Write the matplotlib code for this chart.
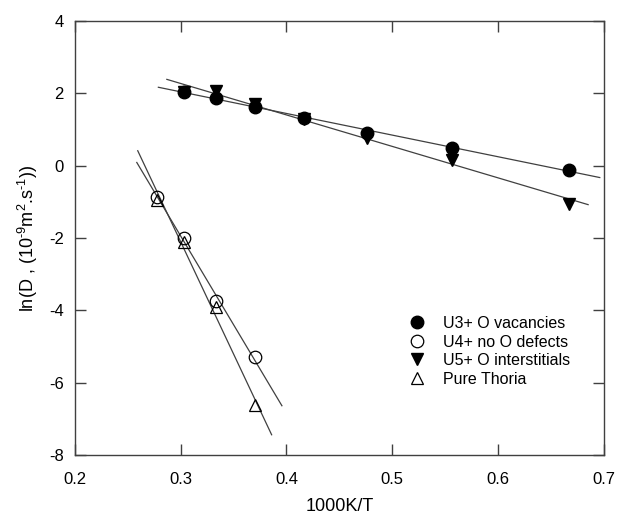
import numpy as np
import matplotlib.pyplot as plt

plt.rcParams['font.family'] = ['Liberation Sans', 'DejaVu Sans']
plt.rcParams['axes.unicode_minus'] = False
plt.rcParams['mathtext.fontset'] = 'custom'
plt.rcParams['mathtext.rm'] = 'Liberation Sans'
plt.rcParams['mathtext.it'] = 'Liberation Sans'
plt.rcParams['mathtext.default'] = 'rm'

# Datos (1000K/T, ln D)
x_u3 = [0.303, 0.333, 0.370, 0.417, 0.476, 0.556, 0.667]
y_u3 = [2.04, 1.88, 1.63, 1.33, 0.91, 0.50, -0.11]

x_u5 = [0.303, 0.333, 0.370, 0.417, 0.476, 0.556, 0.667]
y_u5 = [2.05, 2.07, 1.71, 1.30, 0.77, 0.17, -1.05]

x_u4 = [0.278, 0.303, 0.333, 0.370]
y_u4 = [-0.86, -2.00, -3.73, -5.30]

x_th = [0.278, 0.303, 0.333, 0.370]
y_th = [-0.95, -2.12, -3.92, -6.63]

# Rango de las rectas de ajuste
fit_range_u3 = (0.279, 0.696)
fit_range_u5 = (0.287, 0.685)
fit_range_u4 = (0.2586, 0.3957)
fit_range_th = (0.2595, 0.386)

fig = plt.figure(figsize=(6.23, 5.19), dpi=100)
ax = fig.add_axes([0.120, 0.1233, 0.8495, 0.8362])

line_color = '#404040'


def draw_fit(xs, ys, xr):
    m, b = np.polyfit(xs, ys, 1)
    xx = np.array(xr)
    ax.plot(xx, m * xx + b, color=line_color, lw=0.9, zorder=1)


draw_fit(x_u3, y_u3, fit_range_u3)
draw_fit(x_u5, y_u5, fit_range_u5)
draw_fit(x_u4, y_u4, fit_range_u4)
draw_fit(x_th, y_th, fit_range_th)

ax.plot(x_u3, y_u3, 'o', color='black', ms=9, ls='none', zorder=3, label='U3+ O vacancies')
ax.plot(x_u4, y_u4, 'o', mfc='none', mec='black', mew=0.9, ms=9, ls='none', zorder=3, label='U4+ no O defects')
ax.plot(x_u5, y_u5, 'v', color='black', ms=9, ls='none', zorder=2, label='U5+ O interstitials')
ax.plot(x_th, y_th, '^', mfc='none', mec='black', mew=0.9, ms=8, ls='none', zorder=3, label='Pure Thoria')

ax.set_xlim(0.2, 0.7)
ax.set_ylim(-8, 4)
ax.set_xticks([0.2, 0.3, 0.4, 0.5, 0.6, 0.7])
ax.set_yticks([-8, -6, -4, -2, 0, 2, 4])
ax.set_xticklabels(['0.2', '0.3', '0.4', '0.5', '0.6', '0.7'])

ax.tick_params(direction='in', length=8, width=1, top=True, right=True,
               labelsize=12, colors='#404040', labelcolor='black')
ax.tick_params(axis='x', pad=12)
ax.tick_params(axis='y', pad=8)
for sp in ax.spines.values():
    sp.set_color('#404040')
    sp.set_linewidth(1)

ax.set_xlabel('1000K/T', fontsize=13, labelpad=8)
ax.set_ylabel(r'ln(D , (10$^{\text{-}9}$m$^{2}$.s$^{\text{-}1}$))', fontsize=13, labelpad=6)

ax.legend(loc='upper left', bbox_to_anchor=(0.62, 0.335), frameon=False,
          fontsize=11.5, handletextpad=1.1, labelspacing=0.22,
          borderaxespad=0, handlelength=1.0)

plt.savefig('out.png', dpi=100)
